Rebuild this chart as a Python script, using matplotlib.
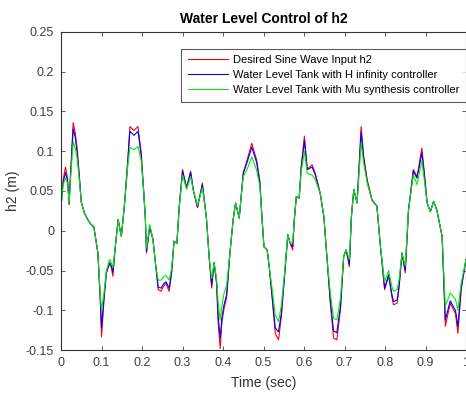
import numpy as np
import matplotlib
matplotlib.use("Agg")
import matplotlib.pyplot as plt

plt.rcParams['font.family'] = ['Liberation Sans', 'DejaVu Sans']

# time samples (s)
t = [0.000, 0.005, 0.011, 0.016, 0.020, 0.023, 0.030, 0.035, 0.040, 0.045,
     0.050, 0.058, 0.066, 0.074, 0.081, 0.091, 0.097, 0.100, 0.106, 0.112,
     0.120, 0.124, 0.128, 0.134, 0.141, 0.145, 0.149, 0.157, 0.165, 0.170,
     0.180, 0.190, 0.198, 0.204, 0.208, 0.211, 0.219, 0.227, 0.234, 0.240,
     0.247, 0.253, 0.259, 0.267, 0.273, 0.279, 0.286, 0.292, 0.300, 0.310,
     0.320, 0.327, 0.337, 0.349, 0.359, 0.366, 0.372, 0.378, 0.384, 0.388,
     0.393, 0.397, 0.402, 0.409, 0.417, 0.425, 0.431, 0.440, 0.444, 0.450,
     0.460, 0.471, 0.483, 0.491, 0.496, 0.501, 0.509, 0.514, 0.521, 0.529,
     0.537, 0.544, 0.552, 0.560, 0.566, 0.572, 0.576, 0.581, 0.588, 0.593,
     0.601, 0.608, 0.620, 0.628, 0.640, 0.649, 0.657, 0.665, 0.673, 0.681,
     0.690, 0.698, 0.704, 0.712, 0.717, 0.723, 0.731, 0.741, 0.747, 0.756,
     0.768, 0.780, 0.788, 0.799, 0.809, 0.817, 0.821, 0.830, 0.835, 0.842,
     0.850, 0.858, 0.870, 0.879, 0.891, 0.898, 0.904, 0.912, 0.920, 0.928,
     0.941, 0.949, 0.961, 0.974, 0.980, 0.988, 1.000]

# desired sine wave input h2 (red)
h_ref = [0.031, 0.064, 0.080, 0.066, 0.033, 0.068, 0.136, 0.123, 0.102, 0.070,
         0.036, 0.022, 0.014, 0.008, 0.005, -0.028, -0.090, -0.133, -0.088, -0.053,
         -0.041, -0.046, -0.057, -0.020, 0.014, 0.003, -0.007, 0.035, 0.090, 0.131,
         0.126, 0.131, 0.098, 0.050, 0.018, -0.028, 0.006, -0.011, -0.045, -0.074,
         -0.076, -0.070, -0.066, -0.076, -0.053, -0.013, -0.016, 0.031, 0.077, 0.054,
         0.075, 0.050, 0.029, 0.060, 0.016, -0.035, -0.072, -0.040, -0.066, -0.116,
         -0.148, -0.116, -0.099, -0.083, -0.028, 0.014, 0.035, 0.016, 0.039, 0.073,
         0.090, 0.110, 0.089, 0.062, 0.018, -0.020, -0.024, -0.045, -0.083, -0.129,
         -0.137, -0.108, -0.057, -0.005, -0.016, -0.024, 0.014, 0.043, 0.041, 0.081,
         0.119, 0.077, 0.083, 0.072, 0.047, 0.018, -0.036, -0.091, -0.135, -0.137,
         -0.099, -0.032, -0.024, -0.045, 0.018, 0.052, 0.035, 0.131, 0.095, 0.064,
         0.039, 0.031, -0.016, -0.074, -0.057, -0.083, -0.093, -0.091, -0.070, -0.028,
         -0.053, 0.026, 0.077, 0.068, 0.104, 0.068, 0.035, 0.024, 0.037, 0.026,
         -0.007, -0.120, -0.091, -0.104, -0.129, -0.074, -0.036]

# H infinity controller (blue)
h_hinf = [0.031, 0.060, 0.073, 0.063, 0.034, 0.065, 0.128, 0.118, 0.098, 0.068,
          0.036, 0.022, 0.014, 0.008, 0.005, -0.028, -0.086, -0.122, -0.084, -0.052,
          -0.040, -0.044, -0.052, -0.020, 0.014, 0.003, -0.007, 0.035, 0.088, 0.125,
          0.120, 0.125, 0.095, 0.050, 0.018, -0.026, 0.005, -0.011, -0.045, -0.071,
          -0.072, -0.067, -0.064, -0.072, -0.052, -0.013, -0.016, 0.031, 0.075, 0.054,
          0.073, 0.050, 0.030, 0.058, 0.016, -0.035, -0.068, -0.040, -0.064, -0.108,
          -0.135, -0.110, -0.094, -0.080, -0.028, 0.014, 0.035, 0.016, 0.039, 0.072,
          0.087, 0.105, 0.086, 0.060, 0.018, -0.020, -0.024, -0.045, -0.080, -0.122,
          -0.127, -0.104, -0.056, -0.005, -0.016, -0.020, 0.014, 0.043, 0.041, 0.078,
          0.113, 0.077, 0.080, 0.070, 0.047, 0.018, -0.036, -0.088, -0.126, -0.128,
          -0.095, -0.032, -0.024, -0.042, 0.018, 0.052, 0.035, 0.124, 0.092, 0.062,
          0.038, 0.031, -0.016, -0.072, -0.055, -0.080, -0.089, -0.087, -0.068, -0.028,
          -0.050, 0.026, 0.075, 0.066, 0.098, 0.066, 0.035, 0.024, 0.037, 0.026,
          -0.007, -0.112, -0.088, -0.100, -0.120, -0.072, -0.036]

# Mu synthesis controller (green)
h_mu = [0.031, 0.058, 0.066, 0.060, 0.035, 0.062, 0.112, 0.104, 0.090, 0.064,
        0.036, 0.022, 0.014, 0.008, 0.005, -0.028, -0.080, -0.100, -0.078, -0.050,
        -0.036, -0.040, -0.046, -0.020, 0.014, 0.003, -0.007, 0.035, 0.082, 0.105,
        0.102, 0.106, 0.088, 0.050, 0.018, -0.022, 0.008, -0.011, -0.045, -0.062,
        -0.062, -0.058, -0.056, -0.062, -0.048, -0.013, -0.016, 0.031, 0.070, 0.052,
        0.068, 0.050, 0.032, 0.054, 0.016, -0.035, -0.060, -0.040, -0.060, -0.090,
        -0.112, -0.095, -0.080, -0.068, -0.028, 0.014, 0.035, 0.016, 0.039, 0.068,
        0.078, 0.093, 0.076, 0.056, 0.018, -0.020, -0.024, -0.045, -0.072, -0.106,
        -0.114, -0.094, -0.052, -0.005, -0.016, -0.014, 0.014, 0.043, 0.041, 0.074,
        0.100, 0.072, 0.070, 0.064, 0.047, 0.018, -0.036, -0.078, -0.110, -0.112,
        -0.085, -0.032, -0.024, -0.036, 0.018, 0.052, 0.035, 0.110, 0.086, 0.060,
        0.038, 0.031, -0.016, -0.064, -0.050, -0.070, -0.076, -0.074, -0.060, -0.028,
        -0.044, 0.026, 0.070, 0.058, 0.088, 0.060, 0.035, 0.024, 0.037, 0.026,
        -0.007, -0.095, -0.078, -0.086, -0.100, -0.066, -0.036]

labels = ['Desired Sine Wave Input h2',
          'Water Level Tank with H infinity controller',
          'Water Level Tank with Mu synthesis controller']

fig = plt.figure(figsize=(4.66, 3.93), dpi=100)
ax = fig.add_axes([0.131, 0.109, 0.869, 0.810])

ax.plot(t, h_ref, color='#ff0000', lw=0.8, label=labels[0])
ax.plot(t, h_hinf, color='#0000ff', lw=0.8, label=labels[1])
ax.plot(t, h_mu, color='#00ee00', lw=0.8, label=labels[2])

ax.set_xlim(0, 1)
ax.set_ylim(-0.15, 0.25)
ax.set_xticks(np.arange(0, 1.01, 0.1))
ax.set_xticklabels(['0', '0.1', '0.2', '0.3', '0.4', '0.5', '0.6', '0.7', '0.8', '0.9', '1'])
ax.set_yticks(np.arange(-0.15, 0.26, 0.05))
ax.set_yticklabels(['-0.15', '-0.1', '-0.05', '0', '0.05', '0.1', '0.15', '0.2', '0.25'])
ax.tick_params(direction='in', top=True, right=True, length=3, width=0.6,
               labelsize=9, colors='#404040', pad=5)
for s in ax.spines.values():
    s.set_linewidth(0.8)
    s.set_color('#333333')

ax.set_title('Water Level Control of h2', fontsize=10, fontweight='bold', pad=6)
ax.set_xlabel('Time (sec)', fontsize=10, color='#333333', labelpad=5)
ax.set_ylabel('h2 (m)', fontsize=10, color='#333333', labelpad=4)

leg = ax.legend(loc='upper right', bbox_to_anchor=(1.0, 0.947), fontsize=8,
                frameon=True, fancybox=False, edgecolor='#333333',
                handlelength=3.6, handletextpad=0.45, labelspacing=0.45,
                borderpad=0.6, borderaxespad=0)
leg.get_frame().set_linewidth(0.8)

fig.savefig('out.png', dpi=100)
